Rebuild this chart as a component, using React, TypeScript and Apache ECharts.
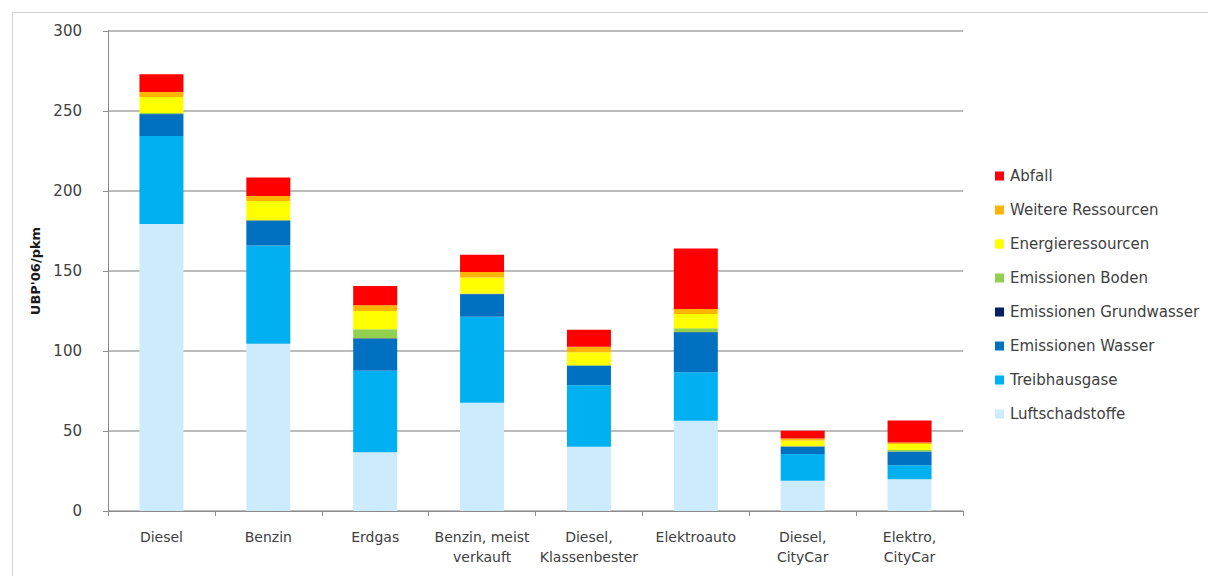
import React, { useEffect, useRef } from "react";
import * as echarts from "echarts";

const categories = [
  "Diesel",
  "Benzin",
  "Erdgas",
  "Benzin, meist\nverkauft",
  "Diesel,\nKlassenbester",
  "Elektroauto",
  "Diesel,\nCityCar",
  "Elektro,\nCityCar",
];

const seriesNames = [
  "Luftschadstoffe",
  "Treibhausgase",
  "Emissionen Wasser",
  "Emissionen Grundwasser",
  "Emissionen Boden",
  "Energieressourcen",
  "Weitere Ressourcen",
  "Abfall",
];

const colors = [
  "#CCEBFC",
  "#00B0F0",
  "#0070C0",
  "#002060",
  "#92D050",
  "#FFFF00",
  "#FFB400",
  "#FF0000",
];

const luftschadstoffe = [179.4, 104.6, 36.7, 67.7, 40.2, 56.4, 18.9, 19.8];
const treibhausgase = [55.0, 61.4, 51.0, 53.7, 38.4, 30.3, 16.7, 8.8];
const emissionenWasser = [13.6, 15.3, 20.0, 14.0, 12.0, 25.0, 4.6, 8.5];
const emissionenGrundwasser = [0.2, 0.2, 0.3, 0.2, 0.2, 0.2, 0.1, 0.1];
const emissionenBoden = [0.5, 0.3, 5.6, 0.4, 0.4, 2.3, 0.3, 1.0];
const energieressourcen = [10.0, 12.0, 11.4, 10.0, 8.0, 9.0, 3.5, 3.6];
const weitereRessourcen = [3.2, 3.0, 3.6, 3.4, 3.4, 3.0, 1.2, 1.0];
const abfall = [11.0, 11.7, 12.0, 10.8, 10.7, 37.8, 4.8, 13.7];

const seriesData = [
  luftschadstoffe,
  treibhausgase,
  emissionenWasser,
  emissionenGrundwasser,
  emissionenBoden,
  energieressourcen,
  weitereRessourcen,
  abfall,
];

const yTicks = { min: 0, max: 300, interval: 50 };
const yAxisName = "UBP'06/pkm";

export default function App() {
  const ref = useRef<HTMLDivElement>(null);

  useEffect(() => {
    if (!ref.current) return;
    const chart = echarts.init(ref.current, undefined, { renderer: "svg" });
    const font = "'DejaVu Sans', 'Open Sans', sans-serif";
    chart.setOption({
      animation: false,
      backgroundColor: "#ffffff",
      textStyle: { fontFamily: font },
      graphic: [
        {
          type: "rect",
          left: 10,
          top: 10,
          shape: { x: 0, y: 0, width: 1220, height: 600 },
          style: { fill: "none", stroke: "#d4d4d4", lineWidth: 1 },
          silent: true,
        },
      ],
      grid: { left: 108, top: 31, right: 245, bottom: 65, containLabel: false },
      legend: {
        orient: "vertical",
        left: 990,
        top: 163,
        itemWidth: 9,
        itemHeight: 9,
        itemGap: 18,
        icon: "rect",
        data: [...seriesNames].reverse(),
        textStyle: {
          fontFamily: font,
          fontSize: 15,
          color: "#404040",
          lineHeight: 16,
          padding: [0, 0, 0, 1],
        },
      },
      xAxis: {
        type: "category",
        data: categories,
        axisLine: { lineStyle: { color: "#8c8c8c", width: 1 } },
        axisTick: { show: true, length: 5, lineStyle: { color: "#8c8c8c" } },
        axisLabel: {
          color: "#404040",
          fontSize: 14,
          lineHeight: 20,
          margin: 16,
          interval: 0,
          fontFamily: font,
        },
      },
      yAxis: {
        type: "value",
        min: yTicks.min,
        max: yTicks.max,
        interval: yTicks.interval,
        name: yAxisName,
        nameLocation: "middle",
        nameGap: 58,
        nameRotate: 90,
        nameTextStyle: {
          color: "#1a1a1a",
          fontWeight: "bold",
          fontSize: 13,
          fontFamily: font,
        },
        axisLine: { show: true, lineStyle: { color: "#8c8c8c", width: 1 } },
        axisTick: { show: true, length: 5, lineStyle: { color: "#8c8c8c" } },
        axisLabel: { color: "#404040", fontSize: 15, margin: 26, fontFamily: font },
        splitLine: { lineStyle: { color: "#a6a6a6", width: 1.5 } },
      },
      series: seriesNames.map((name, i) => ({
        name,
        type: "bar",
        stack: "total",
        barWidth: 44,
        data: seriesData[i],
        itemStyle: { color: colors[i] },
      })),
    });
    return () => chart.dispose();
  }, []);

  return (
    <div
      ref={ref}
      style={{ position: "fixed", left: 0, top: 0, width: 1208, height: 576 }}
    />
  );
}
